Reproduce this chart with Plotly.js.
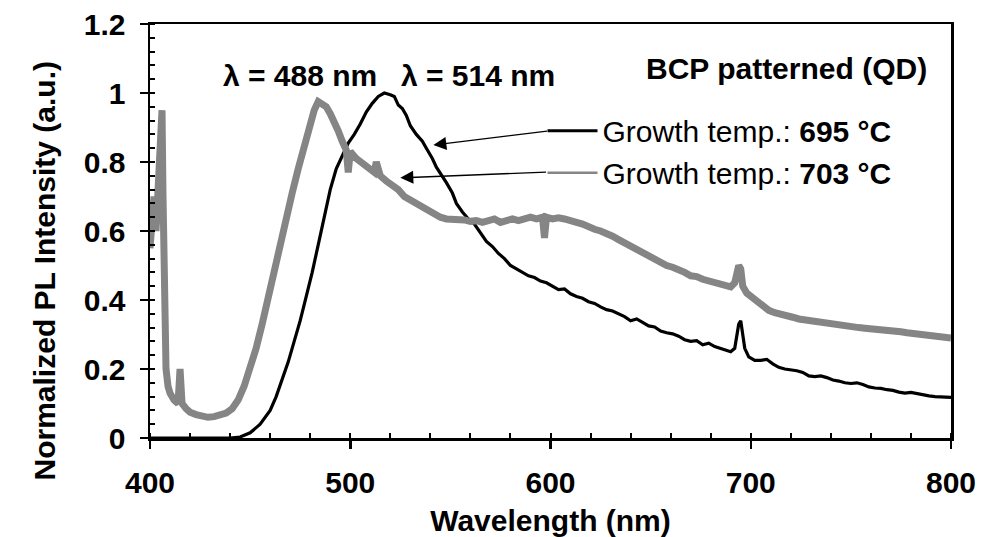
<!DOCTYPE html>
<html>
<head>
<meta charset="utf-8">
<script src="https://cdn.plot.ly/plotly-3.0.1.min.js"></script>
<style>html,body{margin:0;padding:0;background:#fff;}#chart{width:982px;height:537px;}</style>
</head>
<body>
<div id="chart"></div>
<script>
// Series: Growth temp. 695 °C (black)
const wl695 = [400,410,420,430,440,445,450,455,460,463,466,469,472,475,478,481,484,487,490,493,496,499,502,505,508,511,514,517,520,522,524,526,528,530,533,536,538,541,543,546,548,551,553,556,559,562,565,568,571,574,577,580,583,586,589,592,595,598,601,604,607,610,613,616,619,622,625,628,631,634,637,640,643,646,649,652,655,658,661,664,667,670,673,676,679,682,685,688,690,692,693,694,695,696,697,699,702,705,708,711,714,717,720,723,726,729,732,735,738,741,744,747,750,753,756,759,762,765,768,771,774,777,780,783,786,789,792,795,798,800];
const pl695 = [0,0,0,0,0,0.003,0.015,0.04,0.08,0.12,0.17,0.22,0.28,0.34,0.41,0.48,0.56,0.64,0.72,0.78,0.82,0.855,0.88,0.91,0.945,0.97,0.99,1.0,0.995,0.99,0.965,0.955,0.935,0.905,0.88,0.86,0.84,0.81,0.785,0.76,0.74,0.71,0.68,0.655,0.635,0.62,0.595,0.57,0.555,0.535,0.52,0.5,0.49,0.48,0.47,0.465,0.455,0.45,0.44,0.43,0.432,0.418,0.41,0.405,0.395,0.39,0.38,0.372,0.368,0.36,0.352,0.34,0.345,0.335,0.325,0.322,0.31,0.305,0.302,0.295,0.285,0.28,0.282,0.27,0.275,0.265,0.26,0.255,0.25,0.26,0.29,0.33,0.34,0.3,0.26,0.235,0.225,0.225,0.228,0.215,0.205,0.2,0.198,0.195,0.19,0.18,0.178,0.18,0.175,0.168,0.165,0.16,0.158,0.16,0.155,0.148,0.145,0.144,0.14,0.138,0.133,0.13,0.132,0.128,0.124,0.122,0.12,0.12,0.118,0.118];

// Series: Growth temp. 703 °C (grey)
const wl703 = [400,401,402,403,404,405,406,406.5,407,408,409,410,412,414,415,416,418,420,423,426,429,432,435,438,441,444,447,450,453,456,459,462,465,468,471,474,477,480,482,484,486,488,490,492,494,496,498,499,500,503,506,509,512,513,515,518,521,524,527,530,533,536,539,542,545,548,551,554,557,560,563,566,569,572,575,578,581,584,587,590,593,596,597,598,601,604,607,610,613,616,619,622,625,628,631,634,637,640,643,646,649,652,655,658,661,664,667,670,673,676,679,682,685,688,690,692,694,695,696,698,700,703,706,709,712,715,718,721,724,727,730,733,736,739,742,745,748,751,754,757,760,763,766,769,772,775,778,781,784,787,790,793,796,800];
const pl703 = [0.55,0.62,0.7,0.6,0.75,0.85,0.95,0.7,0.5,0.2,0.15,0.13,0.11,0.1,0.2,0.1,0.085,0.075,0.068,0.062,0.06,0.062,0.065,0.072,0.085,0.11,0.15,0.2,0.26,0.33,0.41,0.49,0.57,0.64,0.71,0.78,0.85,0.91,0.95,0.975,0.965,0.96,0.94,0.92,0.89,0.86,0.835,0.77,0.83,0.81,0.795,0.78,0.77,0.8,0.76,0.745,0.735,0.72,0.7,0.69,0.68,0.665,0.655,0.645,0.64,0.635,0.635,0.63,0.632,0.628,0.63,0.625,0.63,0.635,0.625,0.63,0.635,0.63,0.635,0.64,0.635,0.64,0.58,0.64,0.635,0.638,0.635,0.632,0.625,0.62,0.61,0.605,0.6,0.595,0.585,0.575,0.565,0.555,0.548,0.54,0.53,0.52,0.51,0.5,0.495,0.49,0.48,0.47,0.468,0.46,0.455,0.45,0.445,0.44,0.438,0.45,0.5,0.49,0.44,0.42,0.41,0.395,0.38,0.37,0.363,0.357,0.352,0.35,0.345,0.342,0.34,0.337,0.333,0.33,0.328,0.327,0.325,0.322,0.32,0.318,0.317,0.315,0.313,0.312,0.31,0.308,0.305,0.303,0.3,0.298,0.297,0.295,0.292,0.29];

const seriesNames = ['Growth temp.: <b>695 °C</b>', 'Growth temp.: <b>703 °C</b>'];
const peakLabels = ['λ = 488 nm', 'λ = 514 nm'];
const panelLabel = 'BCP patterned (QD)';
const xTitle = 'Wavelength (nm)';
const yTitle = 'Normalized PL Intensity (a.u.)';

const FONT = 'Liberation Sans, Arial, sans-serif';
const GREY = '#858585';

const traces = [
  {x: wl695, y: pl695, type: 'scatter', mode: 'lines', name: seriesNames[0], legendgroup: 'a',
   line: {color: '#000000', width: 3.2}},
  {x: wl703, y: pl703, type: 'scatter', mode: 'lines', name: seriesNames[1], legendgroup: 'b',
   showlegend: false, line: {color: GREY, width: 7}},
  // legend sample for the grey series (thin line, as in the original legend)
  {x: [null], y: [null], type: 'scatter', mode: 'lines', name: seriesNames[1], legendgroup: 'b',
   line: {color: GREY, width: 2.5}}
];

const axisCommon = {
  showline: true, linecolor: '#000', linewidth: 2.5, mirror: true,
  ticks: 'outside', ticklen: 8, tickwidth: 2.5, tickcolor: '#000',
  showgrid: false, zeroline: false,
  tickfont: {family: FONT, size: 30, color: '#000', weight: 'bold'}
};

const layout = {
  width: 982, height: 537,
  margin: {l: 150, r: 31, t: 24, b: 99},
  paper_bgcolor: '#fff', plot_bgcolor: '#fff',
  font: {family: FONT, color: '#000'},
  xaxis: Object.assign({}, axisCommon, {
    range: [400, 800], dtick: 100, tick0: 400,
    minor: {dtick: 20, ticks: 'inside', ticklen: 5, tickwidth: 2, tickcolor: '#000', showgrid: false},
    ticklabelstandoff: 8,
    title: {text: '<b>' + xTitle + '</b>', font: {family: FONT, size: 30, color: '#000'}, standoff: 14}
  }),
  yaxis: Object.assign({}, axisCommon, {
    range: [0, 1.2], dtick: 0.2, tick0: 0,
    minor: {dtick: 0.04, ticks: 'inside', ticklen: 5, tickwidth: 2, tickcolor: '#000', showgrid: false},
    ticklabelstandoff: 8
  }),
  showlegend: true,
  legend: {
    x: 0.49, y: 0.805, xanchor: 'left', yanchor: 'top',
    bgcolor: 'rgba(0,0,0,0)', borderwidth: 0,
    font: {family: FONT, size: 30, color: '#000'},
    tracegroupgap: 0, itemwidth: 50
  },
  annotations: [
    {x: 25, y: 271, xref: 'paper', yref: 'paper', text: '<b>' + yTitle + '</b>', showarrow: false, textangle: -90,
     font: {family: FONT, size: 30, color: '#000'}},
    {x: 475, y: 1.052, xref: 'x', yref: 'y', text: '<b>' + peakLabels[0] + '</b>', showarrow: false,
     font: {family: FONT, size: 30, color: '#000'}},
    {x: 564, y: 1.052, xref: 'x', yref: 'y', text: '<b>' + peakLabels[1] + '</b>', showarrow: false,
     font: {family: FONT, size: 30, color: '#000'}},
    {x: 789, y: 1.072, xref: 'x', yref: 'y', xanchor: 'right', text: '<b>' + panelLabel + '</b>', showarrow: false,
     font: {family: FONT, size: 30, color: '#000'}},
    {x: 541.5, y: 0.849, xref: 'x', yref: 'y', ax: 599, ay: 0.89, axref: 'x', ayref: 'y', text: '',
     showarrow: true, arrowhead: 2, arrowsize: 2, arrowwidth: 1.3, arrowcolor: '#000'},
    {x: 525, y: 0.754, xref: 'x', yref: 'y', ax: 598.5, ay: 0.771, axref: 'x', ayref: 'y', text: '',
     showarrow: true, arrowhead: 2, arrowsize: 2, arrowwidth: 1.3, arrowcolor: '#000'}
  ]
};
// the y-axis title annotation is positioned in pixels converted to paper units
layout.annotations[0].x = (25 - 150) / (982 - 150 - 31);
layout.annotations[0].y = (537 - 99 - 271) / (537 - 24 - 99);

Plotly.newPlot('chart', traces, layout, {staticPlot: true, displayModeBar: false});
</script>
</body>
</html>
